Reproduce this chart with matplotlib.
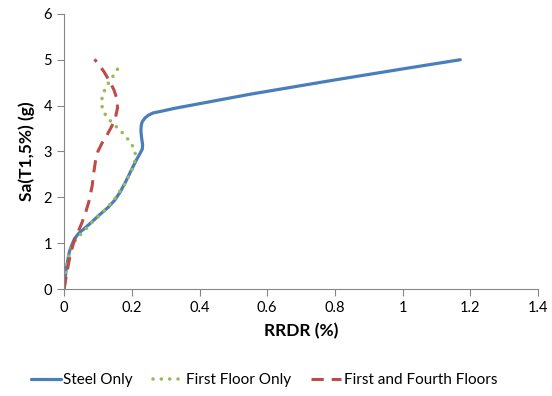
import matplotlib
matplotlib.use('Agg')
import matplotlib.pyplot as plt

plt.rcParams['font.family'] = ['Lato', 'DejaVu Sans']

# Steel only
steel_x = [0.0, 0.003, 0.006, 0.011, 0.016, 0.023, 0.031, 0.044, 0.06, 0.08,
           0.105, 0.13, 0.15, 0.166, 0.182, 0.199, 0.214, 0.226, 0.231, 0.232,
           0.229, 0.227, 0.228, 0.231, 0.239, 0.249, 0.263, 0.283, 0.326,
           0.551, 0.8, 1.0, 1.17]
steel_y = [0.0, 0.2, 0.41, 0.63, 0.82, 0.96, 1.1, 1.22, 1.32, 1.45,
           1.62, 1.78, 1.94, 2.12, 2.34, 2.6, 2.82, 2.98, 3.05, 3.15,
           3.3, 3.45, 3.57, 3.65, 3.73, 3.79, 3.84, 3.87, 3.94,
           4.25, 4.56, 4.8, 5.0]

# First floor only
first_x = [0.0, 0.004, 0.009, 0.014, 0.022, 0.034, 0.05, 0.067, 0.085, 0.103,
           0.121, 0.138, 0.153, 0.167, 0.181, 0.192, 0.203, 0.21, 0.21, 0.199,
           0.184, 0.166, 0.15, 0.131, 0.117, 0.11, 0.113, 0.123, 0.137, 0.151, 0.164]
first_y = [0.0, 0.36, 0.54, 0.72, 0.9, 1.07, 1.2, 1.33, 1.47, 1.59,
           1.72, 1.86, 2.0, 2.16, 2.31, 2.47, 2.64, 2.82, 3.0, 3.17,
           3.31, 3.46, 3.57, 3.71, 3.86, 4.04, 4.21, 4.39, 4.56, 4.71, 4.87]

# First and fourth floors
both_x = [0.0, 0.006, 0.012, 0.02, 0.03, 0.04, 0.053, 0.065, 0.075, 0.083,
          0.088, 0.093, 0.1, 0.112, 0.127, 0.141, 0.152, 0.158, 0.156, 0.147,
          0.133, 0.117, 0.1, 0.09]
both_y = [0.0, 0.25, 0.5, 0.8, 1.05, 1.22, 1.45, 1.7, 1.95, 2.25,
          2.55, 2.8, 3.0, 3.18, 3.36, 3.55, 3.75, 3.95, 4.15, 4.35,
          4.55, 4.75, 4.92, 5.01]

labels = ['Steel Only', 'First Floor Only', 'First and Fourth Floors']

fig = plt.figure(figsize=(5.52, 3.96), dpi=100)
ax = fig.add_axes([0.116, 0.27, 0.859, 0.695])

ax.plot(steel_x, steel_y, color='#4A7EBB', lw=2.3, solid_capstyle='round',
        solid_joinstyle='round', label=labels[0])
ax.plot(first_x, first_y, color='#9BBB59', lw=2.6, linestyle=(0, (0.01, 2.3)),
        dash_capstyle='round', label=labels[1])
ax.plot(both_x, both_y, color='#BE4B48', lw=2.2, linestyle=(0, (4.0, 2.6)),
        label=labels[2])

ax.set_xlim(0, 1.4)
ax.set_ylim(0, 6)
ax.set_xticks([0, 0.2, 0.4, 0.6, 0.8, 1.0, 1.2, 1.4])
ax.set_xticklabels(['0', '0.2', '0.4', '0.6', '0.8', '1', '1.2', '1.4'])
ax.set_yticks(range(7))

for s in ['top', 'right']:
    ax.spines[s].set_visible(False)
for s in ['left', 'bottom']:
    ax.spines[s].set_color('#868686')
ax.tick_params(colors='#868686', labelcolor='black', labelsize=10.5,
               length=5, direction='out')

ax.set_xlabel('RRDR (%)', fontsize=12.5, fontweight='bold', labelpad=6)
ax.set_ylabel('Sa(T1,5%) (g)', fontsize=12.5, fontweight='bold', labelpad=6)

fig.legend(loc='center', bbox_to_anchor=(0.478, 0.04), ncol=3, frameon=False,
           fontsize=11, handlelength=2.0, handletextpad=0.15, columnspacing=1.3)

fig.savefig('out.png', dpi=100)
